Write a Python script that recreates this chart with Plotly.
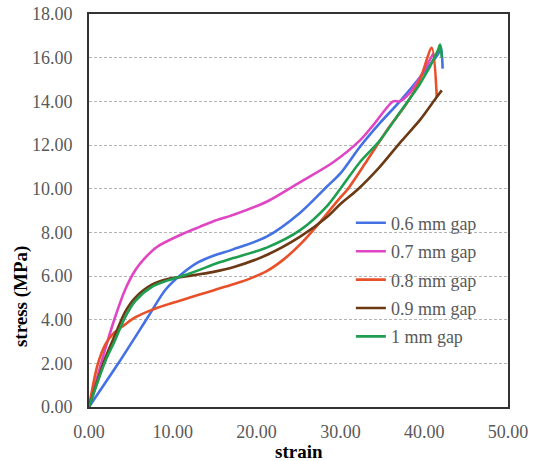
import plotly.graph_objects as go

# ---- data ----
x_06 = [0, 3.5, 7.0, 9.1, 11.1, 13.0, 15.0, 17.2, 21.2, 25.2, 28.4, 30.0, 32.3, 34.7, 37.1, 39.5, 41.7, 42.0, 42.2]
y_06 = [0, 2.0, 4.1, 5.36, 6.1, 6.62, 6.95, 7.22, 7.8, 8.9, 10.1, 10.7, 11.9, 13.0, 14.0, 15.1, 16.2, 16.5, 15.5]

x_07 = [0, 1.9, 3.1, 4.3, 5.5, 6.5, 8.1, 10.9, 13.2, 14.8, 17.2, 21.2, 25.2, 29.1, 32.3, 33.9, 36.3, 37.1, 38.3, 39.5, 41.1]
y_07 = [0, 2.6, 4.1, 5.36, 6.25, 6.75, 7.33, 7.88, 8.25, 8.5, 8.8, 9.4, 10.3, 11.2, 12.2, 12.9, 14.0, 14.0, 14.4, 15.1, 16.2]

x_08 = [0, 1.0, 2.0, 3.0, 4.2, 5.5, 7.5, 9.4, 11.5, 13.2, 15.0, 17.2, 19.2, 21.2, 23.2, 25.2, 27.2, 30.0, 30.8, 33.2, 35.6, 37.9, 39.5, 40.9, 41.5]
y_08 = [0, 1.9, 2.9, 3.4, 3.75, 4.1, 4.45, 4.7, 4.95, 5.15, 5.36, 5.62, 5.88, 6.22, 6.75, 7.45, 8.3, 9.6, 9.94, 11.3, 12.7, 13.9, 15.0, 16.45, 14.2]

x_09 = [0, 1.9, 3.1, 4.3, 5.5, 7.5, 9.4, 11.5, 13.2, 15.0, 17.2, 21.2, 25.2, 28.4, 30.0, 32.0, 34.7, 37.1, 39.5, 41.5, 42.1]
y_09 = [0, 2.2, 3.3, 4.35, 5.0, 5.6, 5.86, 5.98, 6.08, 6.2, 6.4, 6.96, 7.8, 8.7, 9.3, 9.94, 11.0, 12.1, 13.15, 14.2, 14.5]

x_10 = [0, 1.9, 3.1, 4.3, 5.5, 7.5, 9.4, 11.5, 13.2, 15.0, 17.2, 21.2, 25.2, 28.4, 30.0, 32.3, 34.7, 37.1, 39.5, 41.6, 41.9, 42.1]
y_10 = [0, 2.05, 3.05, 4.1, 4.85, 5.5, 5.8, 6.05, 6.28, 6.55, 6.82, 7.3, 8.1, 9.2, 10.0, 11.2, 12.2, 13.5, 14.8, 16.3, 16.6, 16.0]

names = ["0.6 mm gap", "0.7 mm gap", "0.8 mm gap", "0.9 mm gap", "1 mm gap"]
colors = ["#4472E4", "#E046C4", "#E8502A", "#6B3A14", "#1E9E50"]
series = [(x_06, y_06), (x_07, y_07), (x_08, y_08), (x_09, y_09), (x_10, y_10)]

y_ticks = [0, 2, 4, 6, 8, 10, 12, 14, 16, 18]
x_ticks = [0, 10, 20, 30, 40, 50]

FONT = "Liberation Serif"

fig = go.Figure()
for i, ((xs, ys), n, c) in enumerate(zip(series, names, colors)):
    fig.add_trace(go.Scatter(x=xs, y=ys, name=n, mode="lines", legendgroup=f"g{i}",
                             line=dict(color=c, width=2.6, shape="spline", smoothing=0.8)))

fig.update_layout(
    width=536, height=461,
    margin=dict(l=89, r=28, t=14, b=54, autoexpand=False),
    paper_bgcolor="white", plot_bgcolor="white",
    font=dict(family=FONT, size=18, color="#595959"),
    showlegend=True,
    legend=dict(x=0.625, y=0.515, xanchor="left", yanchor="top",
                bgcolor="rgba(0,0,0,0)", font=dict(family=FONT, size=18, color="#595959"),
                tracegroupgap=2, itemwidth=30),
)
fig.update_xaxes(range=[0, 50], tickvals=x_ticks, tickformat=".2f",
                 showgrid=False, zeroline=False,
                 showline=True, mirror=True, linecolor="#333333", linewidth=2,
                 ticks="outside", ticklen=7, tickcolor="rgba(0,0,0,0)",
                 ticklabeloverflow="allow",
                 tickfont=dict(family=FONT, size=18, color="#595959"))
fig.update_yaxes(range=[0, 18], tickvals=y_ticks, tickformat=".2f",
                 showgrid=True, gridcolor="#b4b4b4", gridwidth=1, griddash="3px,2px",
                 zeroline=False,
                 showline=True, mirror=True, linecolor="#333333", linewidth=2,
                 ticks="outside", ticklen=11, tickcolor="rgba(0,0,0,0)",
                 ticklabeloverflow="allow",
                 tickfont=dict(family=FONT, size=18, color="#595959"))

fig.add_annotation(text="<b>strain</b>", xref="paper", yref="paper",
                   x=0.5, y=-0.113, xanchor="center", yanchor="middle", showarrow=False,
                   font=dict(family=FONT, size=19, color="#000000"))
fig.add_annotation(text="<b>stress (MPa)</b>", xref="paper", yref="paper",
                   x=-0.162, y=0.28, xanchor="center", yanchor="middle", showarrow=False,
                   textangle=-90,
                   font=dict(family=FONT, size=19, color="#000000"))

fig.write_html("out.html", config={"displayModeBar": False},
               post_script="document.body.style.margin='0';")
